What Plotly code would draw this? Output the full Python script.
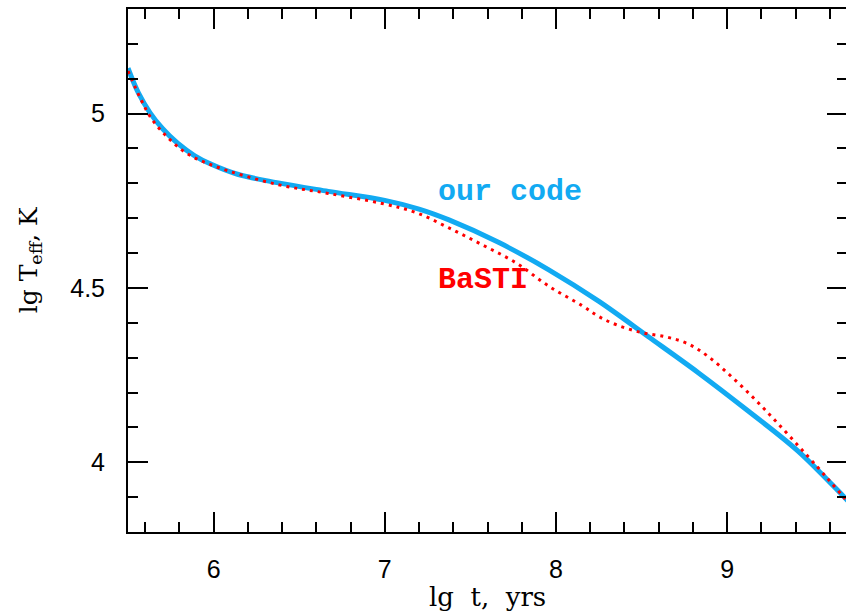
import plotly.graph_objects as go

# lg t (years) and lg Teff (K)
our_x = [5.50, 5.56, 5.628, 5.70, 5.79, 5.89, 5.98, 6.14, 6.37, 6.67, 7.00, 7.20,
         7.375, 7.667, 7.958, 8.249, 8.54, 8.831, 9.123, 9.414, 9.682, 9.72]
our_y = [5.130, 5.060, 5.003, 4.958, 4.915, 4.879, 4.856, 4.826, 4.802, 4.777, 4.751, 4.726,
         4.695, 4.630, 4.552, 4.462, 4.360, 4.257, 4.147, 4.032, 3.901, 3.882]

basti_x = [5.50, 5.576, 5.634, 5.733, 5.85, 6.007, 6.37, 6.67, 6.985, 7.183, 7.375, 7.568,
           7.766, 7.958, 8.15, 8.25, 8.36, 8.50, 8.64, 8.77, 8.89, 9.024, 9.163, 9.28,
           9.414, 9.53, 9.606, 9.682, 9.72]
basti_y = [5.122, 5.040, 4.988, 4.931, 4.884, 4.849, 4.797, 4.771, 4.742, 4.716, 4.672, 4.624,
           4.572, 4.505, 4.450, 4.418, 4.393, 4.372, 4.360, 4.340, 4.303, 4.246, 4.180, 4.120,
           4.048, 3.985, 3.942, 3.899, 3.875]

x_ticks = [6, 7, 8, 9]
y_ticks = [4, 4.5, 5]
y_tick_text = ["4", "4.5", "5"]

BLUE = "#12aaf2"
RED = "#ff0000"

fig = go.Figure()
fig.add_trace(go.Scatter(x=our_x, y=our_y, mode="lines",
                         line=dict(color=BLUE, width=5, shape="spline", smoothing=1.0),
                         showlegend=False))
fig.add_trace(go.Scatter(x=basti_x, y=basti_y, mode="lines",
                         line=dict(color=RED, width=3, dash="3px,5px", shape="spline", smoothing=1.0),
                         showlegend=False))

tickfont = dict(family="Liberation Sans, Arial, sans-serif", size=25, color="black")

fig.update_xaxes(range=[5.5, 9.7], tickvals=x_ticks, ticktext=[str(v) for v in x_ticks],
                 ticks="inside", ticklen=20, tickwidth=2, tickcolor="black",
                 minor=dict(dtick=0.2, tick0=5.4, ticks="inside", ticklen=10, tickwidth=2, tickcolor="black"),
                 showline=True, linewidth=2, linecolor="black", mirror="ticks",
                 showgrid=False, zeroline=False, tickfont=tickfont, ticklabelstandoff=14)
fig.update_yaxes(range=[3.8, 5.3], tickvals=y_ticks, ticktext=y_tick_text,
                 ticks="inside", ticklen=20, tickwidth=2, tickcolor="black",
                 minor=dict(dtick=0.1, tick0=3.8, ticks="inside", ticklen=10, tickwidth=2, tickcolor="black"),
                 showline=True, linewidth=2, linecolor="black", mirror="ticks",
                 showgrid=False, zeroline=False, tickfont=tickfont, ticklabelstandoff=16)

serif = dict(family="DejaVu Serif, Liberation Serif, serif", size=26, color="black")
mono = "Liberation Mono, Courier New, monospace"

fig.update_layout(
    width=849, height=616,
    margin=dict(l=128, r=0, t=9, b=84),
    plot_bgcolor="white", paper_bgcolor="white",
    annotations=[
        dict(text="lg  t,  yrs", xref="paper", yref="paper", x=0.50, y=-0.124,
             xanchor="center", yanchor="middle", showarrow=False, font=serif),
        dict(text="lg T<sub>eff</sub>, K", xref="paper", yref="paper", x=-0.136, y=0.52,
             xanchor="center", yanchor="middle", textangle=-90, showarrow=False,
             font=dict(family="DejaVu Serif, Liberation Serif, serif", size=25, color="black")),
        dict(text="<b>our code</b>", xref="x", yref="y", x=7.30, y=4.776,
             xanchor="left", yanchor="middle", showarrow=False,
             font=dict(family=mono, size=30, color=BLUE)),
        dict(text="<b>BaSTI</b>", xref="x", yref="y", x=7.30, y=4.524,
             xanchor="left", yanchor="middle", showarrow=False,
             font=dict(family=mono, size=30, color=RED)),
    ],
)

fig.write_html("out.html", config={"displayModeBar": False},
               post_script="document.body.style.margin='0';document.documentElement.style.overflow='hidden';document.body.style.overflow='hidden';")
